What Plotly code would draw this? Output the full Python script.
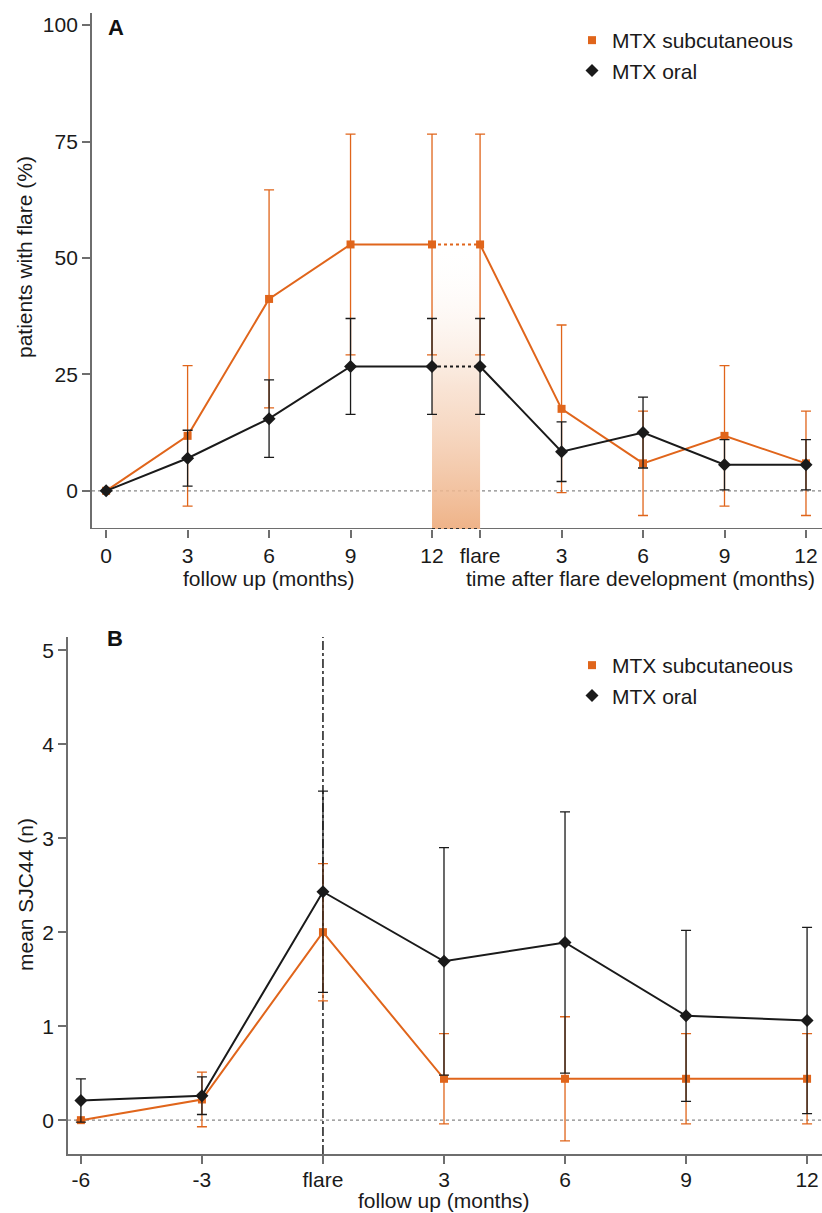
import plotly.graph_objects as go

# ---------------- data ----------------
# Panel A: patients with flare (%)
a_follow_months = [0, 3, 6, 9, 12]
a_after_months = [0, 3, 6, 9, 12]
a_follow_labels = ["0", "3", "6", "9", "12"]
a_after_labels = ["flare", "3", "6", "9", "12"]

a_sc_follow = [0, 11.8, 41.2, 52.9, 52.9]
a_sc_follow_err = [0, 15.1, 23.4, 23.7, 23.7]
a_sc_after = [52.9, 17.6, 5.9, 11.8, 5.9]
a_sc_after_err = [23.7, 18.0, 11.2, 15.1, 11.2]

a_or_follow = [0, 7.0, 15.5, 26.7, 26.7]
a_or_follow_err = [0, 6.0, 8.3, 10.3, 10.3]
a_or_after = [26.7, 8.4, 12.5, 5.6, 5.6]
a_or_after_err = [10.3, 6.4, 7.6, 5.4, 5.4]

# Panel B: mean SJC44 (n)
b_months = [-6, -3, 0, 3, 6, 9, 12]
b_labels = ["-6", "-3", "flare", "3", "6", "9", "12"]
b_sc = [0, 0.22, 2.0, 0.44, 0.44, 0.44, 0.44]
b_sc_err = [0, 0.29, 0.73, 0.48, 0.66, 0.48, 0.48]
b_or = [0.21, 0.26, 2.43, 1.69, 1.89, 1.11, 1.06]
b_or_err = [0.23, 0.20, 1.07, 1.21, 1.39, 0.91, 0.99]

# ---------------- style ----------------
ORANGE = "#e0651b"
BLACK = "#1a1a1a"
GRAY = "#6e6e6e"
FONT = "Liberation Sans, Arial, sans-serif"
FS = 21
W, H = 822, 1213
FLARE_OFFSET = 13.77  # x position of 'flare' on panel A axis

a_after_x = [FLARE_OFFSET + m for m in a_after_months]


def px(x):
    return x / W


def py(y):
    return 1 - y / H


fig = go.Figure()

# shaded gradient region between 12 and flare (panel A)
fig.add_trace(go.Scatter(
    x=[12, FLARE_OFFSET, FLARE_OFFSET, 12, 12],
    y=[-8.2, -8.2, 53, 53, -8.2],
    mode="lines", line=dict(width=0), fill="toself",
    fillgradient=dict(type="vertical",
                      colorscale=[[0, "rgba(238,175,130,0.95)"], [0.5, "rgba(245,210,185,0.6)"],
                                  [1, "rgba(255,255,255,0)"]]),
    hoverinfo="skip", showlegend=False, xaxis="x", yaxis="y"))


def series(x, y, err, color, symbol, size, xa, ya):
    fig.add_trace(go.Scatter(
        x=x, y=y, mode="lines+markers",
        line=dict(color=color, width=2),
        marker=dict(color=color, symbol=symbol, size=size),
        error_y=dict(type="data", array=err, visible=True, color=color,
                     thickness=1.3, width=5),
        showlegend=False, xaxis=xa, yaxis=ya))


# Panel A
for yf, ef, ya_, ea_, col, sym, sz in [
    (a_sc_follow, a_sc_follow_err, a_sc_after, a_sc_after_err, ORANGE, "square", 8),
    (a_or_follow, a_or_follow_err, a_or_after, a_or_after_err, BLACK, "diamond", 10),
]:
    # dotted bridge between 12 months and flare
    fig.add_trace(go.Scatter(
        x=[a_follow_months[-1], a_after_x[0]], y=[yf[-1], ya_[0]],
        mode="lines", line=dict(color=col, width=2, dash="dot"),
        showlegend=False, hoverinfo="skip", xaxis="x", yaxis="y"))
    series(a_follow_months, yf, ef, col, sym, sz, "x", "y")
    series(a_after_x, ya_, ea_, col, sym, sz, "x", "y")

# Panel B
series(b_months, b_sc, b_sc_err, ORANGE, "square", 8, "x2", "y2")
series(b_months, b_or, b_or_err, BLACK, "diamond", 10, "x2", "y2")

# legend entries
for name, col, sym, sz, lg, xa, ya in [
    ("MTX subcutaneous", ORANGE, "square", 8, "legend", "x", "y"),
    ("MTX oral", BLACK, "diamond", 10, "legend", "x", "y"),
    ("MTX subcutaneous", ORANGE, "square", 8, "legend2", "x2", "y2"),
    ("MTX oral", BLACK, "diamond", 10, "legend2", "x2", "y2"),
]:
    fig.add_trace(go.Scatter(
        x=[None], y=[None], mode="markers", name=name,
        marker=dict(color=col, symbol=sym, size=sz),
        legend=lg, xaxis=xa, yaxis=ya))

# ---------------- layout ----------------
A_X0, A_Y0, A_Y1 = 92, 13, 529
B_X0, B_Y0, B_Y1 = 68, 637, 1154

tickfont = dict(family=FONT, size=FS, color="#1a1a1a")
axis_common = dict(showgrid=False, zeroline=False, ticks="outside", ticklen=8,
                   tickwidth=1.5, tickcolor=GRAY, tickfont=tickfont, fixedrange=True)

fig.update_layout(
    width=W, height=H, margin=dict(l=0, r=0, t=0, b=0),
    paper_bgcolor="white", plot_bgcolor="white",
    font=dict(family=FONT, size=FS, color="#1a1a1a"),
    xaxis=dict(domain=[px(A_X0), 1], range=[-0.52, 26.36],
               tickvals=a_follow_months + a_after_x,
               ticktext=a_follow_labels + a_after_labels,
               showline=False, anchor="y", **axis_common),
    yaxis=dict(domain=[py(A_Y1), py(A_Y0)], range=[-8.2, 102.6],
               tickvals=[0, 25, 50, 75, 100], showline=True, linecolor=GRAY,
               linewidth=1.8, anchor="x", **axis_common),
    xaxis2=dict(domain=[px(B_X0), 1], range=[-6.32, 12.37],
                tickvals=b_months, ticktext=b_labels, ticklabelstandoff=-2,
                showline=True, linecolor=GRAY, linewidth=1.8, anchor="y2", **axis_common),
    yaxis2=dict(domain=[py(B_Y1), py(B_Y0)], range=[-0.36, 5.14],
                tickvals=[0, 1, 2, 3, 4, 5], showline=True, linecolor=GRAY,
                linewidth=1.8, anchor="x2", **axis_common),
    legend=dict(x=px(572), y=py(20), xanchor="left", yanchor="top",
                bgcolor="rgba(0,0,0,0)", font=dict(family=FONT, size=FS, color="#1a1a1a"),
                itemwidth=30, tracegroupgap=0),
    legend2=dict(x=px(572), y=py(645), xanchor="left", yanchor="top",
                 bgcolor="rgba(0,0,0,0)", font=dict(family=FONT, size=FS, color="#1a1a1a"),
                 itemwidth=30, tracegroupgap=0),
)

shapes = []
# panel A x-axis line with dotted break between 12 and flare
shapes.append(dict(type="line", xref="x", yref="y", x0=-0.52, x1=12, y0=-8.2, y1=-8.2,
                   line=dict(color=GRAY, width=1.8)))
shapes.append(dict(type="line", xref="x", yref="y", x0=12, x1=FLARE_OFFSET, y0=-8.2, y1=-8.2,
                   line=dict(color="#333", width=1.8, dash="dot")))
shapes.append(dict(type="line", xref="x", yref="y", x0=FLARE_OFFSET, x1=26.36, y0=-8.2, y1=-8.2,
                   line=dict(color=GRAY, width=1.8)))
# zero reference lines
shapes.append(dict(type="line", xref="x domain", yref="y", x0=0, x1=1, y0=0, y1=0,
                   line=dict(color="#888", width=1.2, dash="dot"), layer="below"))
shapes.append(dict(type="line", xref="x2 domain", yref="y2", x0=0, x1=1, y0=0, y1=0,
                   line=dict(color="#888", width=1.2, dash="dot"), layer="below"))
# flare line in panel B
shapes.append(dict(type="line", xref="x2", yref="y2", x0=0, x1=0, y0=-0.36, y1=5.14,
                   line=dict(color=BLACK, width=1.5, dash="dashdot"), layer="below"))
fig.update_layout(shapes=shapes)

ann = []
ann.append(dict(text="<b>A</b>", x=px(106), y=py(27), xref="paper", yref="paper",
                xanchor="left", yanchor="middle", showarrow=False,
                font=dict(family=FONT, size=22, color="#111")))
ann.append(dict(text="<b>B</b>", x=px(105), y=py(638), xref="paper", yref="paper",
                xanchor="left", yanchor="middle", showarrow=False,
                font=dict(family=FONT, size=22, color="#111")))
ann.append(dict(text="patients with flare (%)", x=px(25), y=py(257), xref="paper", yref="paper",
                textangle=-90, showarrow=False, xanchor="center", yanchor="middle",
                font=dict(family=FONT, size=FS, color="#1a1a1a")))
ann.append(dict(text="mean SJC44 (n)", x=px(25), y=py(895), xref="paper", yref="paper",
                textangle=-90, showarrow=False, xanchor="center", yanchor="middle",
                font=dict(family=FONT, size=FS, color="#1a1a1a")))
ann.append(dict(text="follow up (months)", x=px(269), y=py(578), xref="paper", yref="paper",
                showarrow=False, xanchor="center", yanchor="middle",
                font=dict(family=FONT, size=FS, color="#1a1a1a")))
ann.append(dict(text="time after flare development (months)", x=px(640), y=py(578),
                xref="paper", yref="paper", showarrow=False, xanchor="center", yanchor="middle",
                font=dict(family=FONT, size=FS, color="#1a1a1a")))
ann.append(dict(text="follow up (months)", x=px(444), y=py(1213), xref="paper", yref="paper",
                showarrow=False, xanchor="center", yanchor="bottom", borderpad=0,
                font=dict(family=FONT, size=FS, color="#1a1a1a")))
fig.update_layout(annotations=ann)

fig.write_html(
    "out.html",
    config={"displayModeBar": False},
    post_script="document.body.style.margin='0';document.body.style.padding='0';"
                "document.body.style.overflow='hidden';",
)
